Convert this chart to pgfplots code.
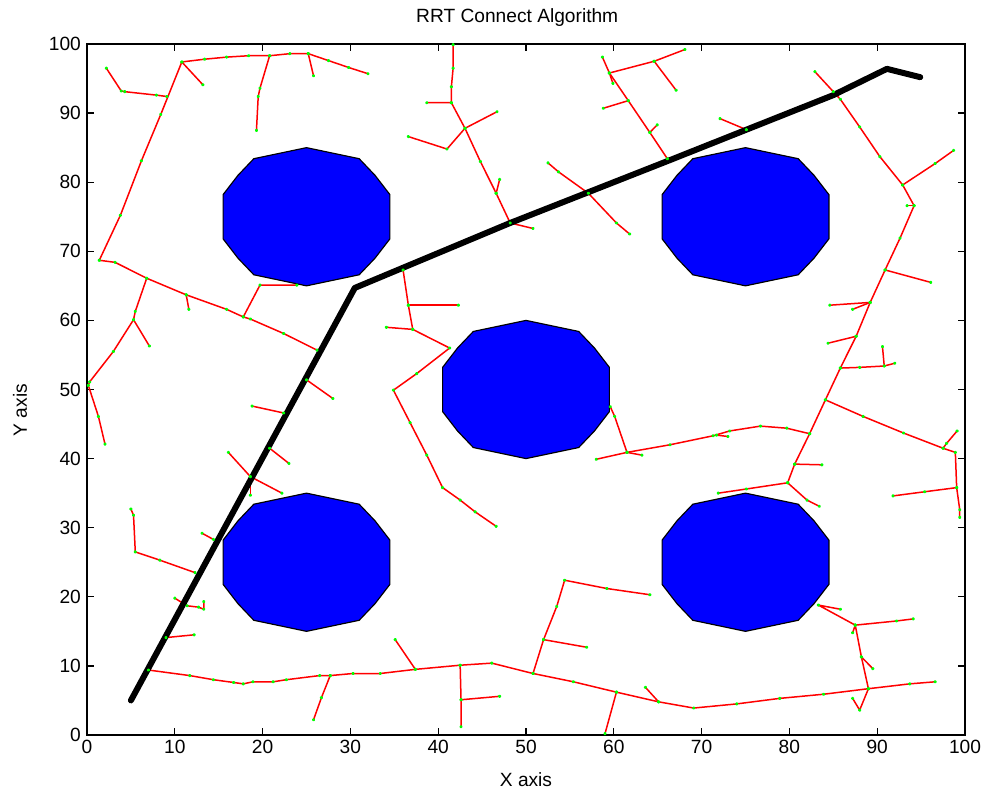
\documentclass[border=0pt]{standalone}
\usepackage{fontspec}
\setmainfont{Liberation Sans}
\usepackage{pgfplots}
\pgfplotsset{compat=1.18}

\definecolor{obst}{rgb}{0,0,1}
\definecolor{edge}{rgb}{1,0,0}
\definecolor{vert}{rgb}{0,1,0}

\pgfplotsset{
  tree/.style={color=edge, line width=0.9pt, line join=round,
    mark=*, mark size=0.55pt, mark options={fill=vert, draw=vert}},
  obstacle/.style={fill=obst, draw=black, line width=0.7pt},
}

\begin{document}
\begin{tikzpicture}[font=\fontsize{11.5}{13}\selectfont]
\begin{axis}[
  scale only axis,
  width=526.8pt, height=414.6pt,
  xmin=0, xmax=100, ymin=0, ymax=100,
  xtick={0,10,...,100}, ytick={0,10,...,100},
  tick align=inside, major tick length=4.5pt,
  axis line style={line width=0.8pt},
  every tick/.style={black, line width=0.8pt},
  font=\fontsize{11.5}{13}\selectfont,
  /pgf/number format/assume math mode=true,
  xticklabel style={inner sep=2pt, yshift=-1pt},
  yticklabel style={inner sep=2pt, xshift=-1.5pt},
  xlabel={X axis},
  xlabel style={at={(axis description cs:0.5,0)}, anchor=center, yshift=-27pt},
  ylabel={Y axis},
  ylabel style={at={(axis description cs:0,0.47)}, anchor=center, rotate=0, yshift=40.2pt},
  clip=true,
]
\coordinate (ll) at (rel axis cs:0,0);
\coordinate (ur) at (rel axis cs:1,1);
\coordinate (tc) at (rel axis cs:0.49,1);

% obstacles
\addplot[obstacle] coordinates {(25,85) (31,83.4) (32.8,81) (34.5,78.2) (34.5,71.8) (32.8,69) (31,66.6) (25,65) (19,66.6) (17.2,69) (15.5,71.8) (15.5,78.2) (17.2,81) (19,83.4)} --cycle;
\addplot[obstacle] coordinates {(75,85) (81,83.4) (82.8,81) (84.5,78.2) (84.5,71.8) (82.8,69) (81,66.6) (75,65) (69,66.6) (67.2,69) (65.5,71.8) (65.5,78.2) (67.2,81) (69,83.4)} --cycle;
\addplot[obstacle] coordinates {(50,60) (56,58.4) (57.8,56) (59.5,53.2) (59.5,46.8) (57.8,44) (56,41.6) (50,40) (44,41.6) (42.2,44) (40.5,46.8) (40.5,53.2) (42.2,56) (44,58.4)} --cycle;
\addplot[obstacle] coordinates {(25,35) (31,33.4) (32.8,31) (34.5,28.2) (34.5,21.8) (32.8,19) (31,16.6) (25,15) (19,16.6) (17.2,19) (15.5,21.8) (15.5,28.2) (17.2,31) (19,33.4)} --cycle;
\addplot[obstacle] coordinates {(75,35) (81,33.4) (82.8,31) (84.5,28.2) (84.5,21.8) (82.8,19) (81,16.6) (75,15) (69,16.6) (67.2,19) (65.5,21.8) (65.5,28.2) (67.2,31) (69,33.4)} --cycle;

% tree grown from the start
\addplot[tree] coordinates {(2.2,96.5) (3.9,93.2) (4.3,93.1) (7.9,92.6) (9.1,92.4)};
\addplot[tree] coordinates {(1.4,68.7) (3.8,75.2) (6.2,83.1) (8.4,89.8) (10.8,97.4) (13.4,97.8) (15.9,98.1) (18.4,98.3) (20.8,98.3) (23.1,98.6) (25.2,98.6) (27.5,97.6) (29.8,96.6) (32.0,95.7)};
\addplot[tree] coordinates {(10.8,97.4) (13.2,94.1)};
\addplot[tree] coordinates {(20.8,98.3) (19.7,93.6) (19.5,92.4) (19.3,87.5)};
\addplot[tree] coordinates {(25.2,98.6) (25.8,95.4)};
\addplot[tree] coordinates {(1.4,68.7) (3.2,68.4) (6.8,66.1) (11.3,63.7) (15.9,61.6) (17.8,60.5) (18.6,60.2) (22.4,58.1) (26.2,55.7)};
\addplot[tree] coordinates {(6.8,66.1) (5.5,61.3) (5.3,60.1) (3.0,55.5) (0.3,51.1) (0.15,50.6) (1.3,46.1) (2.05,42.1)};
\addplot[tree] coordinates {(5.3,60.1) (7.1,56.3)};
\addplot[tree] coordinates {(11.3,63.7) (11.6,61.6)};
\addplot[tree] coordinates {(17.8,60.5) (19.7,65.1) (23.9,65.1)};
\addplot[tree] coordinates {(25.0,51.4) (28.0,48.7)};
\addplot[tree] coordinates {(18.8,47.6) (22.4,46.6)};
\addplot[tree] coordinates {(16.1,40.9) (18.6,37.4) (22.2,35.0)};
\addplot[tree] coordinates {(18.6,37.4) (18.6,34.7)};
\addplot[tree] coordinates {(20.8,41.5) (23.0,39.3)};
\addplot[tree] coordinates {(5.0,32.7) (5.3,31.8) (5.5,26.5) (8.3,25.3) (12.3,23.5)};
\addplot[tree] coordinates {(13.1,29.2) (14.4,28.3)};
\addplot[tree] coordinates {(10.0,19.8) (11.4,18.7) (12.7,18.5) (13.3,18.2) (13.3,19.3)};
\addplot[tree] coordinates {(9.0,14.1) (12.2,14.5)};
\addplot[tree] coordinates {(7.0,9.4) (11.7,8.6) (14.4,8.0) (16.7,7.6) (17.8,7.4) (18.9,7.7) (21.2,7.7) (22.7,8.0) (26.5,8.6) (27.7,8.6) (30.3,8.9) (33.4,8.9) (37.4,9.5) (42.5,10.1) (46.1,10.4) (50.8,8.9) (55.4,7.7) (60.3,6.2) (65.1,4.8) (69.1,3.9) (74.0,4.5) (78.9,5.3) (83.9,5.9) (89.0,6.7) (93.7,7.4) (96.6,7.7)};
\addplot[tree] coordinates {(27.7,8.6) (26.7,5.4) (25.8,2.2)};
\addplot[tree] coordinates {(37.4,9.5) (35.1,13.8)};
\addplot[tree] coordinates {(42.5,10.1) (42.6,5.1) (42.6,1.2)};
\addplot[tree] coordinates {(42.6,5.1) (47.0,5.6)};
\addplot[tree] coordinates {(50.8,8.9) (52.0,13.8) (53.5,18.6) (54.4,22.4) (59.2,21.2) (64.1,20.3)};
\addplot[tree] coordinates {(52.0,13.8) (56.9,12.7)};
\addplot[tree] coordinates {(60.3,6.2) (59.0,0.2)};
\addplot[tree] coordinates {(65.1,4.8) (63.6,6.9)};
\addplot[tree] coordinates {(89.0,6.7) (88.0,3.6) (87.2,5.3)};
\addplot[tree] coordinates {(89.0,6.7) (88.2,11.3) (87.5,15.9) (87.2,14.8)};
\addplot[tree] coordinates {(88.2,11.3) (89.5,9.6)};
\addplot[tree] coordinates {(87.5,15.9) (83.3,18.8) (85.8,18.2)};
\addplot[tree] coordinates {(87.5,15.9) (92.2,16.5) (94.1,16.8)};

% tree grown from the goal
\addplot[tree] coordinates {(82.9,96.0) (85.0,93.1) (85.8,92.0) (88.0,88.0) (90.3,83.7) (92.9,79.6) (94.2,76.6) (92.6,71.9) (90.9,67.3) (89.2,62.6) (87.6,57.7) (85.8,53.1) (84.1,48.5) (82.3,43.6) (80.6,39.2) (79.8,36.5)};
\addplot[tree] coordinates {(92.9,79.6) (96.6,82.7) (98.7,84.6)};
\addplot[tree] coordinates {(94.2,76.6) (93.4,76.6)};
\addplot[tree] coordinates {(90.9,67.3) (96.1,65.5)};
\addplot[tree] coordinates {(89.2,62.6) (84.6,62.2)};
\addplot[tree] coordinates {(89.2,62.6) (87.2,61.6)};
\addplot[tree] coordinates {(87.6,57.7) (84.4,56.7)};
\addplot[tree] coordinates {(85.8,53.1) (88.0,53.2) (90.8,53.4) (92.0,53.8)};
\addplot[tree] coordinates {(90.8,53.4) (90.6,56.2)};
\addplot[tree] coordinates {(84.1,48.5) (88.4,46.1) (93.0,43.7) (97.5,41.5) (98.9,40.9) (99.05,35.8) (99.4,32.6) (99.4,31.5)};
\addplot[tree] coordinates {(97.5,41.5) (97.9,42.2) (99.1,44.0)};
\addplot[tree] coordinates {(99.05,35.8) (95.4,35.2) (91.8,34.6)};
\addplot[tree] coordinates {(80.6,39.2) (83.7,39.1)};
\addplot[tree] coordinates {(79.8,36.5) (82.0,34.0) (83.4,33.1)};
\addplot[tree] coordinates {(79.8,36.5) (75.1,35.6) (71.9,35.0)};
\addplot[tree] coordinates {(82.3,43.6) (79.7,44.4) (76.7,44.7) (73.2,44.0) (71.3,43.3) (66.4,42.0) (61.5,40.9) (58.0,39.9)};
\addplot[tree] coordinates {(71.7,43.4) (73.0,43.2)};
\addplot[tree] coordinates {(61.5,40.9) (63.2,40.5)};
\addplot[tree] coordinates {(61.5,40.9) (60.1,46.1) (59.6,47.5)};
\addplot[tree] coordinates {(36.0,67.3) (36.6,62.2) (37.1,58.7) (41.3,56.0) (37.55,52.3) (34.9,49.9) (36.8,45.2) (38.7,40.5) (40.5,35.8) (42.5,34.0) (44.2,32.3) (46.6,30.2)};
\addplot[tree] coordinates {(36.6,62.2) (42.3,62.2)};
\addplot[tree] coordinates {(37.1,58.7) (34.1,59.0)};
\addplot[tree] coordinates {(41.7,99.9) (41.7,96.5) (41.5,93.8) (41.5,91.5) (38.7,91.5)};
\addplot[tree] coordinates {(41.5,91.5) (43.05,87.8) (44.8,83.0) (46.6,78.4) (48.2,74.1) (50.8,73.3)};
\addplot[tree] coordinates {(46.6,78.4) (47.0,80.4)};
\addplot[tree] coordinates {(43.05,87.8) (46.7,90.2)};
\addplot[tree] coordinates {(43.05,87.8) (41.0,84.8) (36.6,86.6)};
\addplot[tree] coordinates {(52.5,82.8) (53.7,81.5) (57.1,78.4) (60.3,74.1) (61.8,72.5)};
\addplot[tree] coordinates {(58.7,98.1) (59.5,95.8) (59.9,94.3)};
\addplot[tree] coordinates {(59.5,95.8) (64.6,97.5) (68.1,99.2)};
\addplot[tree] coordinates {(64.6,97.5) (67.1,93.3)};
\addplot[tree] coordinates {(59.5,95.8) (61.65,91.8) (64.1,87.2) (66.1,83.4)};
\addplot[tree] coordinates {(61.65,91.8) (58.8,90.7)};
\addplot[tree] coordinates {(64.1,87.2) (64.95,88.3)};
\addplot[tree] coordinates {(72.1,89.2) (75.1,87.6)};

% path found between start and goal
\addplot[black, line width=3.6pt, line join=round, line cap=round] coordinates {(5,5) (30.5,64.7) (48.2,74.1) (66.4,83.2) (85,92.6) (91.1,96.4) (94.9,95.2)};
\end{axis}
\node[anchor=center] at ([yshift=15.6pt]tc) {RRT Connect Algorithm};
\pgfresetboundingbox
\path ([shift={(-52.2pt,-34.8pt)}]ll) rectangle ([shift={(12pt,26.4pt)}]ur);
\end{tikzpicture}
\end{document}
